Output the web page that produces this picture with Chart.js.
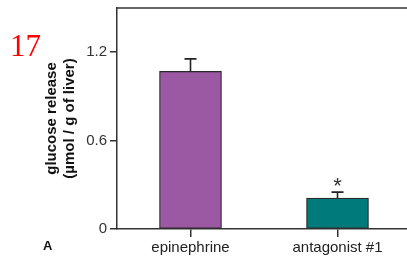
<!DOCTYPE html>
<html lang="en">
<head>
    <meta charset="UTF-8">
    <title>Glucose release</title>
    <script src="https://cdn.jsdelivr.net/npm/chart.js"></script>
    <style>
        body {
            margin: 0;
            padding: 0;
            background-color: white;
            overflow: hidden;
        }
        /* plot runs slightly past the right edge, as in the cropped figure */
        #wrap {
            width: 411px;
            height: 267px;
        }
    </style>
</head>
<body>
    <div id="wrap"><canvas id="glucoseChart"></canvas></div>

    <script>
        const categories = ['epinephrine', 'antagonist #1'];
        const glucoseRelease = [1.07, 0.21];
        const errorUp = [0.085, 0.04];
        const significant = [false, true];
        const yTicks = [0, 0.6, 1.2];

        const axisColor = '#333';

        // draws error bars, asterisk, top frame line and the panel labels
        const extrasPlugin = {
            id: 'extras',
            afterDatasetsDraw(chart) {
                const ctx = chart.ctx;
                const yScale = chart.scales.y;
                const area = chart.chartArea;
                const meta = chart.getDatasetMeta(0);

                ctx.save();
                ctx.strokeStyle = '#222';
                ctx.lineWidth = 1.6;
                meta.data.forEach((bar, i) => {
                    const top = yScale.getPixelForValue(glucoseRelease[i] + errorUp[i]);
                    ctx.beginPath();
                    ctx.moveTo(bar.x, bar.y);
                    ctx.lineTo(bar.x, top);
                    ctx.moveTo(bar.x - 6, top);
                    ctx.lineTo(bar.x + 6, top);
                    ctx.stroke();

                    if (significant[i]) {
                        ctx.fillStyle = '#333';
                        ctx.font = '22px Arial';
                        ctx.textAlign = 'center';
                        ctx.textBaseline = 'alphabetic';
                        ctx.fillText('*', bar.x, top + 1);
                    }
                });

                // top frame line
                ctx.strokeStyle = axisColor;
                ctx.lineWidth = 1.5;
                ctx.beginPath();
                ctx.moveTo(area.left, area.top);
                ctx.lineTo(chart.width, area.top);
                ctx.stroke();

                ctx.fillStyle = '#ff0000';
                ctx.font = '31px "Liberation Serif", serif';
                ctx.textAlign = 'left';
                ctx.textBaseline = 'alphabetic';
                ctx.fillText('17', 10, 56);

                ctx.fillStyle = '#111';
                ctx.font = 'bold 13px Arial';
                ctx.fillText('A', 43, 250);
                ctx.restore();
            }
        };

        const ctx = document.getElementById('glucoseChart').getContext('2d');
        new Chart(ctx, {
            type: 'bar',
            data: {
                labels: categories,
                datasets: [{
                    data: glucoseRelease,
                    backgroundColor: ['#9b59a3', '#007a7a'],
                    borderColor: '#2a2a2a',
                    borderWidth: 1.2,
                    borderSkipped: false,
                    barThickness: 62
                }]
            },
            options: {
                responsive: true,
                maintainAspectRatio: false,
                animation: false,
                layout: {
                    padding: { left: 40, right: 0, top: 8, bottom: 0 }
                },
                plugins: {
                    legend: { display: false },
                    tooltip: { enabled: false }
                },
                scales: {
                    x: {
                        offset: true,
                        grid: {
                            display: true,
                            offset: false,
                            drawOnChartArea: false,
                            tickLength: 8,
                            color: axisColor,
                            lineWidth: 1.5
                        },
                        border: { display: true, color: axisColor, width: 1.5 },
                        ticks: {
                            color: '#222',
                            padding: 2,
                            maxRotation: 0,
                            font: { family: 'Arial', size: 15 }
                        },
                        afterFit(scale) {
                            scale.height = 38;
                            scale.paddingLeft = 0;
                            scale.paddingRight = 0;
                        }
                    },
                    y: {
                        min: 0,
                        max: 1.5,
                        afterBuildTicks(scale) {
                            scale.ticks = yTicks.map(v => ({ value: v }));
                        },
                        grid: {
                            display: true,
                            drawOnChartArea: false,
                            tickLength: 7,
                            color: axisColor,
                            lineWidth: 1.5
                        },
                        border: { display: true, color: axisColor, width: 1.5 },
                        ticks: {
                            color: '#333',
                            padding: 3,
                            font: { family: 'Arial', size: 15 },
                            callback: v => (v === 0 ? '0' : v.toFixed(1))
                        },
                        title: {
                            display: true,
                            text: ['glucose release', '(\u00b5mol / g of liver)'],
                            color: '#111',
                            font: { family: 'Arial', size: 15, weight: 'bold', lineHeight: 1.25 },
                            padding: { top: 2, bottom: 0 }
                        },
                        afterFit(scale) {
                            scale.width = 77;
                            scale.paddingTop = 0;
                            scale.paddingBottom = 0;
                        }
                    }
                }
            },
            plugins: [extrasPlugin]
        });
    </script>
</body>
</html>
